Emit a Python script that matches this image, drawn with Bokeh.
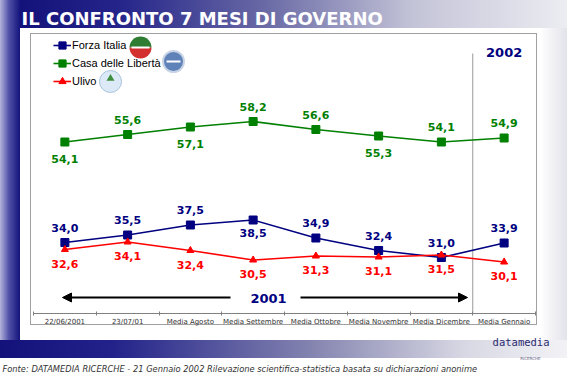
from bokeh.plotting import figure
from bokeh.models import (Range1d, FixedTicker, Label, Legend, LegendItem,
                          Arrow, NormalHead, ColumnDataSource, Title)
from bokeh.core.properties import value
from bokeh.embed import file_html
from bokeh.resources import INLINE
import math

# ---------------- data ----------------
categories = ["22/06/2001", "23/07/01", "Media Agosto", "Media Settembre",
              "Media Ottobre", "Media Novembre", "Media Dicembre", "Media Gennaio"]
forza_italia = [34.0, 35.5, 37.5, 38.5, 34.9, 32.4, 31.0, 33.9]
casa_liberta = [54.1, 55.6, 57.1, 58.2, 56.6, 55.3, 54.1, 54.9]
ulivo = [32.6, 34.1, 32.4, 30.5, 31.3, 31.1, 31.5, 30.1]
series_names = ["Forza Italia", "Casa delle Libertà", "Ulivo"]
period_labels = ["2001", "2002"]
title_text = "IL CONFRONTO 7 MESI DI GOVERNO"
source_text = ("Fonte: DATAMEDIA RICERCHE - 21 Gennaio 2002 Rilevazione "
               "scientifica-statistica basata su dichiarazioni anonime")

# ---------------- layout ----------------
W, H = 567, 377
FL, FR, FT, FB = 33, 535, 34, 313
Y0, Y1 = 19.8, 75.6
n = len(categories)
xs = list(range(n))


def dx(px):
    return -0.5 + (px - FL) * n / (FR - FL)


def dy(py):
    return Y0 + (FB - py) * (Y1 - Y0) / (FB - FT)


def fmt(v):
    return f"{v:.1f}".replace(".", ",")


NAVY = "#000080"
GREEN = "#008000"
RED = "#ff0000"

p = figure(width=W, height=H, x_range=Range1d(-0.5, n - 0.5),
           y_range=Range1d(Y0, Y1), output_backend="svg",
           toolbar_location=None, y_axis_location=None,
           min_border_left=FL, min_border_right=W - FR,
           min_border_top=FT, min_border_bottom=H - FB)
p.border_fill_color = None
p.background_fill_color = None
p.outline_line_color = None
p.xgrid.visible = False
p.ygrid.visible = False

p.styles = {
    "background-image": ", ".join([
        "linear-gradient(#ffffff, #ffffff)",                       # box interior
        "linear-gradient(#a0a0a0, #a0a0a0)",                       # box border
        "linear-gradient(to right, #12127a 0%, #24248a 18%, #6a6aa6 45%, #c4c4d8 72%, #ececf2 100%)",  # title bar
        "linear-gradient(to right, #12127a 0%, #22228a 20%, #8484b0 55%, #d8d8e4 82%, #f2f2f6 100%)",  # bottom bar
        "linear-gradient(to right, #b4b4dc 0%, #5050a8 45%, #14147c 100%)",  # left strip
        "linear-gradient(to right, #ffffff 0px, #ffffff 540px, #e2e2ea 567px)",  # base
    ]),
    "background-position": "31px 34px, 30px 33px, 20px 0px, 0px 340px, 0px 0px, 0px 0px",
    "background-size": "505px 290px, 507px 292px, 547px 28px, 567px 18px, 20px 358px, 567px 358px",
    "background-repeat": "no-repeat",
}

# title (top)
p.title.text = title_text
p.title.align = "left"
p.title.offset = -12
p.title.text_font = "DejaVu Sans"
p.title.text_font_style = "bold"
p.title.text_font_size = "18px"
p.title.text_color = "white"
p.title.standoff = 11

# x axis
ax = p.xaxis[0]
ax.ticker = FixedTicker(ticks=xs, minor_ticks=[i - 0.5 for i in range(n + 1)])
ax.major_label_overrides = {i: c for i, c in enumerate(categories)}
ax.major_tick_in = 0
ax.major_tick_out = 0
ax.minor_tick_in = 2
ax.minor_tick_out = 2
ax.minor_tick_line_color = "#808080"
ax.axis_line_color = "#808080"
ax.major_label_text_font = "DejaVu Sans"
ax.major_label_text_font_size = "7px"
ax.major_label_text_color = "#333333"
ax.major_label_standoff = 2

# bottom texts (logo + source)
p.add_layout(Title(text="datamedia", align="right", offset=-14, standoff=11,
                   text_font="DejaVu Sans Mono", text_font_style="normal",
                   text_font_size="10.5px", text_color="#2a2a70"), "below")
p.add_layout(Title(text="RICERCHE", align="right", offset=-5, standoff=0,
                   text_font="DejaVu Sans", text_font_style="normal",
                   text_font_size="4px", text_color="#606080"), "below")
p.add_layout(Title(text=source_text, align="left", offset=-31, standoff=3,
                   text_font="DejaVu Sans", text_font_style="italic",
                   text_font_size="8.3px", text_color="#333333"), "below")

# separator 2001 / 2002
p.segment(x0=[n - 1.5], y0=[Y0], x1=[n - 1.5], y1=[dy(53)], line_color="#999999", line_width=1)

src = ColumnDataSource(dict(
    x=xs, fi=forza_italia, cdl=casa_liberta, ul=ulivo,
    fi_t=[fmt(v) for v in forza_italia],
    cdl_t=[fmt(v) for v in casa_liberta],
    ul_t=[fmt(v) for v in ulivo],
))

l_fi = p.line("x", "fi", source=src, line_color=NAVY, line_width=1.6)
s_fi = p.scatter("x", "fi", source=src, marker="square", size=8, fill_color=NAVY, line_color=NAVY)
l_cdl = p.line("x", "cdl", source=src, line_color=GREEN, line_width=1.6)
s_cdl = p.scatter("x", "cdl", source=src, marker="square", size=8, fill_color=GREEN, line_color=GREEN)
l_ul = p.line("x", "ul", source=src, line_color=RED, line_width=1.6)
s_ul = p.scatter("x", "ul", source=src, marker="triangle", size=7, fill_color=RED, line_color=RED)

# value labels (above = -1, below = +1)
cdl_side = [1, -1, 1, -1, -1, 1, -1, -1]
fi_side = [-1, -1, -1, 1, -1, -1, -1, -1]
src.data["cdl_off"] = [(-15 if s < 0 else 17) for s in cdl_side]
src.data["fi_off"] = [(-15 if s < 0 else 13) for s in fi_side]
src.data["ul_off"] = [14] * n

lab_kw = dict(text_font=value("DejaVu Sans"), text_font_style="bold",
              text_font_size="11px", text_align="center", text_baseline="middle")
p.text("x", "cdl", text="cdl_t", y_offset="cdl_off", source=src, text_color=GREEN, **lab_kw)
p.text("x", "fi", text="fi_t", y_offset="fi_off", source=src, text_color=NAVY, **lab_kw)
p.text("x", "ul", text="ul_t", y_offset="ul_off", source=src, text_color=RED, **lab_kw)

# legend
legend = Legend(items=[
    LegendItem(label=series_names[0], renderers=[l_fi, s_fi]),
    LegendItem(label=series_names[1], renderers=[l_cdl, s_cdl]),
    LegendItem(label=series_names[2], renderers=[l_ul, s_ul]),
], location=(20, FB - 90), background_fill_alpha=0, border_line_color=None,
    padding=0, margin=0, spacing=0, glyph_width=18, glyph_height=18,
    label_height=18, label_standoff=1, label_text_font="Liberation Sans",
    label_text_font_size="11px", label_text_color="#000000")
p.add_layout(legend)

# party logos (decorative)
p.wedge(x=[dx(140)], y=[dy(47)], radius=11, radius_units="screen",
        start_angle=0, end_angle=math.pi, fill_color="#2e7d32", line_color=None)
p.wedge(x=[dx(140)], y=[dy(47)], radius=11, radius_units="screen",
        start_angle=math.pi, end_angle=2 * math.pi, fill_color="#d32f2f", line_color=None)
p.scatter(x=[dx(140)], y=[dy(47)], marker="dash", size=18, line_color="white", line_width=2)
p.scatter(x=[dx(173)], y=[dy(61)], marker="circle", size=21, fill_color="#5f82b8", line_color="#c8d4e6", line_width=2)
p.scatter(x=[dx(173)], y=[dy(61)], marker="dash", size=14, line_color="white", line_width=2)
p.scatter(x=[dx(110)], y=[dy(81)], marker="circle", size=22, fill_color="#dbeaf6", line_color="#a9c3da", line_width=1)
p.scatter(x=[dx(110)], y=[dy(78)], marker="triangle", size=8, fill_color="#3d8f3d", line_color=None)

# period arrow 2001
head = dict(size=9, fill_color="black", line_color="black")
p.add_layout(Arrow(end=NormalHead(**head), x_start=dx(230), y_start=dy(297),
                   x_end=dx(62), y_end=dy(297), line_width=2, line_color="black"))
p.add_layout(Arrow(end=NormalHead(**head), x_start=dx(300), y_start=dy(297),
                   x_end=dx(467), y_end=dy(297), line_width=2, line_color="black"))
per_kw = dict(text_font="DejaVu Sans", text_font_style="bold", text_font_size="13px",
              text_color=NAVY, text_align="center", text_baseline="middle")
p.add_layout(Label(x=dx(268), y=dy(298), text=period_labels[0], **per_kw))
p.add_layout(Label(x=n - 1, y=dy(52), text=period_labels[1], **per_kw))

open("out.html", "w").write(file_html(p, INLINE))
